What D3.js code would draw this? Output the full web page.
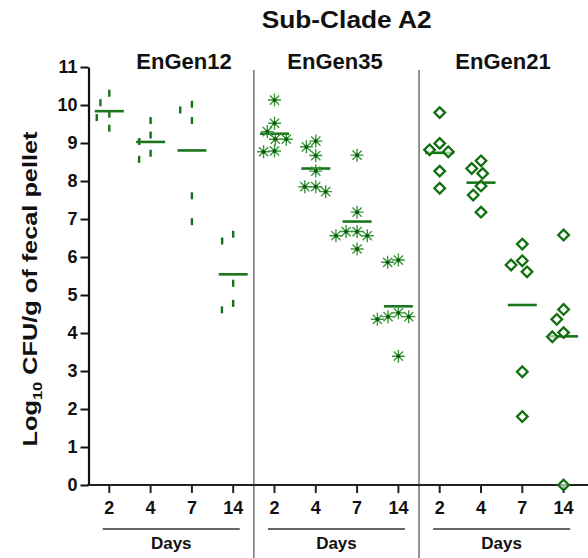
<!DOCTYPE html>
<html>
<head>
<meta charset="utf-8">
<script src="https://cdn.jsdelivr.net/npm/d3@7"></script>
<style>
  html, body { margin: 0; padding: 0; background: #ffffff; }
  svg { display: block; }
  text { font-family: "Liberation Sans", Arial, Helvetica, sans-serif; font-weight: bold; fill: #111; }
</style>
</head>
<body>
<svg id="chart" width="588" height="558"></svg>
<script>
// Log10 CFU/g of fecal pellet per mouse, by strain and day post-colonisation
const strains = ["EnGen12", "EnGen35", "EnGen21"];
const days = ["2", "4", "7", "14"];
const yTickValues = [0, 1, 2, 3, 4, 5, 6, 7, 8, 9, 10, 11];

const engen12 = [
  [10.31, 10.06, 9.76, 9.67, 9.39],
  [9.59, 9.21, 9.04, 8.73, 8.57],
  [10.02, 9.87, 9.59, 7.61, 6.93],
  [6.60, 6.42, 5.31, 4.78, 4.61]
];
const engen35 = [
  [10.13, 9.52, 9.30, 9.10, 9.10, 8.79, 8.77],
  [9.05, 8.90, 8.67, 8.26, 7.85, 7.85, 7.72],
  [8.68, 7.18, 6.67, 6.67, 6.56, 6.56, 6.21],
  [5.92, 5.86, 4.53, 4.43, 4.43, 4.36, 3.39]
];
const engen21 = [
  [9.80, 8.99, 8.82, 8.77, 8.26, 7.81],
  [8.53, 8.33, 8.20, 7.87, 7.63, 7.18],
  [6.34, 5.90, 5.79, 5.61, 2.98, 1.80],
  [6.58, 4.62, 4.36, 4.01, 3.90, 0.00]
];
const seriesByStrain = [engen12, engen35, engen21];
const markerKinds = ["dash", "star", "diamond"];

const svg = d3.select("#chart");
const green = "#1a761a";

const keys = [];
strains.forEach(s => days.forEach(d => keys.push(s + "|" + d)));

const x = d3.scaleBand().domain(keys).range([88.65, 584.25]).paddingInner(0).paddingOuter(0);
const y = d3.scaleLinear().domain([0, 11]).range([485, 67]);
const cx = k => x(k) + x.bandwidth() / 2;

// Title
svg.append("text")
  .attr("x", 346.7).attr("y", 27.5)
  .attr("text-anchor", "middle")
  .attr("font-size", 23)
  .attr("textLength", 170).attr("lengthAdjust", "spacingAndGlyphs")
  .text("Sub-Clade A2");

// Strain headers
const headerX = [184, 335, 503];
strains.forEach((s, i) => {
  svg.append("text")
    .attr("x", headerX[i]).attr("y", 69)
    .attr("text-anchor", "middle")
    .attr("font-size", 22)
    .text(s);
});

// Panel separators
[1, 2].forEach(i => {
  const xs = x(strains[i] + "|" + days[0]);
  svg.append("line")
    .attr("x1", xs).attr("x2", xs)
    .attr("y1", 70).attr("y2", 558)
    .attr("stroke", "#7a7a7a").attr("stroke-width", 1.6);
});

// Y axis
const yAxis = svg.append("g")
  .attr("transform", "translate(88.5,0)")
  .call(d3.axisLeft(y).tickValues(yTickValues).tickFormat(d3.format("d")).tickSize(8).tickSizeOuter(0).tickPadding(3));
yAxis.select(".domain").attr("stroke", "#111").attr("stroke-width", 2.2);
yAxis.selectAll(".tick line").attr("stroke", "#111").attr("stroke-width", 2);
yAxis.selectAll(".tick text").attr("font-size", 18).attr("font-family", "Liberation Sans, Arial, sans-serif").attr("font-weight", "bold").attr("fill", "#111");

// X axis
const xAxis = svg.append("g")
  .attr("transform", "translate(0,485)")
  .call(d3.axisBottom(x).tickFormat(k => k.split("|")[1]).tickSize(8).tickSizeOuter(0).tickPadding(8));
xAxis.select(".domain").remove();
xAxis.selectAll(".tick line").attr("stroke", "#222").attr("stroke-width", 2);
xAxis.selectAll(".tick text").attr("font-size", 18).attr("font-family", "Liberation Sans, Arial, sans-serif").attr("font-weight", "bold").attr("fill", "#111");
svg.append("line")
  .attr("x1", 87.4).attr("x2", 588).attr("y1", 485).attr("y2", 485)
  .attr("stroke", "#222").attr("stroke-width", 2.2);

// "Days" group labels with rule above
strains.forEach(s => {
  const c = (cx(s + "|" + days[0]) + cx(s + "|" + days[3])) / 2;
  svg.append("line")
    .attr("x1", c - 68.5).attr("x2", c + 68.5)
    .attr("y1", 529).attr("y2", 529)
    .attr("stroke", "#333").attr("stroke-width", 1.3);
  svg.append("text")
    .attr("x", c).attr("y", 549)
    .attr("text-anchor", "middle")
    .attr("font-size", 17)
    .text("Days");
});

// Y axis title
const yTitle = svg.append("text")
  .attr("transform", "translate(37,289) rotate(-90)")
  .attr("text-anchor", "middle")
  .attr("font-size", 20)
  .attr("textLength", 315).attr("lengthAdjust", "spacingAndGlyphs");
yTitle.append("tspan").text("Log");
yTitle.append("tspan").attr("font-size", 13).attr("dy", 5).text("10");
yTitle.append("tspan").attr("dy", -5).text(" CFU/g of fecal pellet");

// Horizontal spread of points that would overlap (simple beeswarm)
function swarm(values, diameter) {
  const placed = [];
  values.forEach(v => {
    const py = y(v);
    const cands = [0];
    placed.forEach(p => {
      const dy = Math.abs(p.py - py);
      if (dy < diameter) {
        const dx = Math.sqrt(diameter * diameter - dy * dy);
        cands.push(p.dx - dx, p.dx + dx);
      }
    });
    cands.sort((a, b) => Math.abs(a) - Math.abs(b) || a - b);
    const dx = cands.find(c => placed.every(p => (p.dx - c) ** 2 + (p.py - py) ** 2 >= diameter * diameter - 0.01));
    placed.push({ v, py, dx });
  });
  return placed;
}

const starPath = (() => {
  const r = 6.5;
  let d = "";
  for (let i = 0; i < 4; i++) {
    const a = i * Math.PI / 4;
    const dx = r * Math.cos(a), dy = r * Math.sin(a);
    d += `M${-dx},${-dy}L${dx},${dy}`;
  }
  return d;
})();

const plot = svg.append("g");
strains.forEach((s, si) => {
  const kind = markerKinds[si];
  seriesByStrain[si].forEach((vals, di) => {
    const key = s + "|" + days[di];
    const c = cx(key);
    const diam = kind === "dash" ? 13 : kind === "star" ? 11 : 12;
    const pts = swarm(vals, diam);
    const g = plot.append("g");

    // mean line
    const m = d3.mean(vals);
    g.append("line")
      .attr("x1", c - 14.5).attr("x2", c + 14.5)
      .attr("y1", y(m)).attr("y2", y(m))
      .attr("stroke", green).attr("stroke-width", 2.6);

    const mk = g.selectAll("g.pt").data(pts).join("g")
      .attr("class", "pt")
      .attr("transform", p => `translate(${c + p.dx},${p.py})`);

    if (kind === "dash") {
      mk.append("rect")
        .attr("x", -1.2).attr("y", -3.5).attr("width", 2.4).attr("height", 7)
        .attr("fill", "#17701a");
    } else if (kind === "star") {
      mk.append("path").attr("d", starPath)
        .attr("stroke", "#3a963a").attr("stroke-width", 1.4).attr("fill", "none");
      mk.append("circle").attr("r", 1.9).attr("fill", "#0b5a0b");
    } else {
      mk.append("path").attr("d", "M0,-5.3L5.3,0L0,5.3L-5.3,0Z")
        .attr("fill", "#ffffff").attr("fill-opacity", 0.6)
        .attr("stroke", "#116f11").attr("stroke-width", 2.3);
    }
  });
});
</script>
</body>
</html>
